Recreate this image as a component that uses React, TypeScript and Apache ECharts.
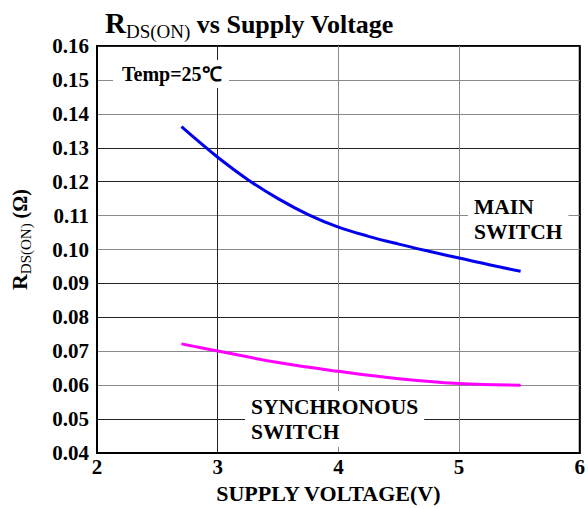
import React, { useEffect, useRef } from 'react';
import * as echarts from 'echarts';

const xMin = 2;
const xMax = 6;
const yMin = 0.04;
const yMax = 0.16;
const mainSwitch: [number, number][] = [
  [2.7, 0.1362], [3.0, 0.1272], [3.25, 0.1206], [3.5, 0.115], [3.75, 0.1103],
  [4.0, 0.1066], [4.25, 0.1039], [4.5, 0.1016], [4.75, 0.0995], [5.0, 0.0975],
  [5.25, 0.0955], [5.51, 0.0936],
];
const syncSwitch: [number, number][] = [
  [2.7, 0.0722], [3.0, 0.0701], [3.5, 0.0667], [4.0, 0.0641], [4.5, 0.0619],
  [5.0, 0.0605], [5.51, 0.06],
];
const tempLabel = 'Temp=25℃';
const mainLabel = 'MAIN\nSWITCH';
const syncLabel = 'SYNCHRONOUS\nSWITCH';

const FONT = 'Liberation Serif, Times New Roman, serif';
const gridColors = ['#222', '#222', '#8a8a8a', '#8a8a8a'];

export default function App() {
  const ref = useRef<HTMLDivElement>(null);
  useEffect(() => {
    if (!ref.current) return;
    const chart = echarts.init(ref.current, undefined, { renderer: 'svg' });
    chart.setOption({
      animation: false,
      backgroundColor: '#fff',
      title: {
        text: '{r|R}{s|DS(ON)}{t| vs Supply Voltage}',
        left: 100,
        top: 3,
        textStyle: {
          rich: {
            r: { fontFamily: FONT, fontWeight: 'bold', fontSize: 29, color: '#000', verticalAlign: 'bottom', padding: [0, 0, 4, 0] },
            s: { fontFamily: FONT, fontWeight: 'normal', fontSize: 19, color: '#000', verticalAlign: 'bottom' },
            t: { fontFamily: FONT, fontWeight: 'bold', fontSize: 26, color: '#000', verticalAlign: 'bottom', padding: [0, 0, 4, 0] },
          },
        },
      },
      grid: {
        left: 97, right: 3, top: 46, bottom: 51,
        show: true, borderColor: '#000', borderWidth: 2, backgroundColor: 'transparent',
      },
      xAxis: {
        type: 'value', min: xMin, max: xMax, interval: 1,
        name: 'SUPPLY VOLTAGE(V)', nameLocation: 'middle', nameGap: 23,
        nameTextStyle: { fontFamily: FONT, fontWeight: 'bold', fontSize: 22, color: '#000', padding: [0, 20, 0, 0] },
        axisLine: { show: true, lineStyle: { color: '#000', width: 2 } },
        axisTick: { show: false },
        axisLabel: { fontFamily: FONT, fontWeight: 'bold', fontSize: 21, color: '#000', margin: 3 },
        splitLine: { show: true, lineStyle: { color: gridColors, width: 1 } },
      },
      yAxis: {
        type: 'value', min: yMin, max: yMax, interval: 0.01,
        name: '{r|R}{s|DS(ON)}{t| (Ω)}', nameLocation: 'middle', nameGap: 64, nameRotate: 90,
        nameTextStyle: {
          padding: [0, 0, 0, 20],
          rich: {
            r: { fontFamily: FONT, fontWeight: 'bold', fontSize: 22, color: '#000', verticalAlign: 'bottom', padding: [0, 0, 3, 0] },
            s: { fontFamily: FONT, fontWeight: 'normal', fontSize: 15, color: '#000', verticalAlign: 'bottom' },
            t: { fontFamily: FONT, fontWeight: 'bold', fontSize: 20, color: '#000', verticalAlign: 'bottom', padding: [0, 0, 3, 0] },
          },
        },
        axisLine: { show: true, lineStyle: { color: '#000', width: 2 } },
        axisTick: { show: false },
        axisLabel: {
          fontFamily: FONT, fontWeight: 'bold', fontSize: 21, color: '#000', margin: 8,
          padding: [8, 0, 0, 0],
          formatter: (v: number) => v.toFixed(2),
        },
        splitLine: { show: true, lineStyle: { color: gridColors, width: 1 } },
      },
      graphic: [
        {
          type: 'rect', z: 9,
          shape: { x: 113, y: 60, width: 116, height: 28 },
          style: { fill: '#fff' },
        },
        {
          type: 'text', x: 122, y: 63, z: 10,
          style: {
            text: tempLabel, fontFamily: FONT, fontWeight: 'bold', fontSize: 20, fill: '#000',
            lineHeight: 22, verticalAlign: 'top', align: 'left',
          },
        },
        {
          type: 'text', x: 468, y: 191, z: 10,
          style: {
            text: mainLabel, fontFamily: FONT, fontWeight: 'bold', fontSize: 21.5, fill: '#000',
            lineHeight: 25, backgroundColor: '#fff', padding: [3, 6, 3, 6], verticalAlign: 'top', align: 'left',
          },
        },
        {
          type: 'text', x: 245, y: 391, z: 10,
          style: {
            text: syncLabel, fontFamily: FONT, fontWeight: 'bold', fontSize: 21.5, fill: '#000',
            lineHeight: 25, backgroundColor: '#fff', padding: [3, 6, 3, 6], verticalAlign: 'top', align: 'left',
          },
        },
      ],
      series: [
        {
          type: 'line', name: 'MAIN SWITCH', data: mainSwitch, smooth: 0.4, showSymbol: false,
          lineStyle: { color: '#0000ee', width: 3 }, z: 3,
        },
        {
          type: 'line', name: 'SYNCHRONOUS SWITCH', data: syncSwitch, smooth: 0.4, showSymbol: false,
          lineStyle: { color: '#ff00ff', width: 3 }, z: 3,
        },
      ],
    });
    return () => chart.dispose();
  }, []);
  return (
    <div
      ref={ref}
      style={{ position: 'fixed', left: 0, top: 0, width: 588, height: 509, background: '#fff' }}
    />
  );
}
